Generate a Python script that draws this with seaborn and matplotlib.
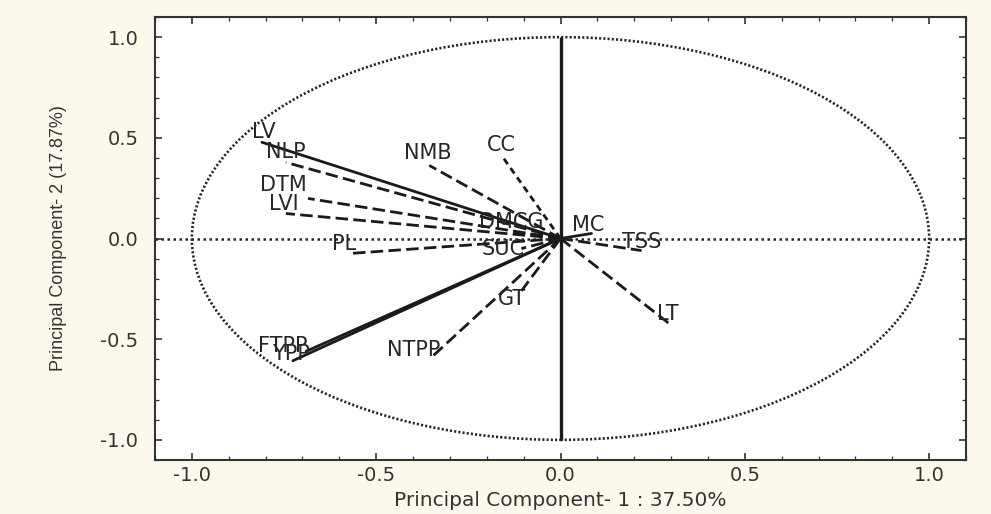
import numpy as np
import pandas as pd
import matplotlib
matplotlib.use("Agg")
import matplotlib.pyplot as plt
from matplotlib.patches import Circle
from matplotlib.ticker import MultipleLocator
import seaborn as sns

# loadings
variables = ['LV', 'NLP', 'DTM', 'LVI', 'PL', 'NMB', 'CC', 'DMCG',
             'MC', 'TSS', 'SUC', 'GT', 'NTPP', 'FTPP', 'YPP', 'LT']
pc1 = [-0.81, -0.745, -0.685, -0.745, -0.576, -0.356, -0.16, -0.128,
       0.084, 0.22, -0.106, -0.106, -0.35, -0.69, -0.726, 0.30]
pc2 = [0.478, 0.378, 0.199, 0.124, -0.075, 0.363, 0.413, 0.03,
       0.025, -0.06, -0.05, -0.26, -0.59, -0.56, -0.607, -0.43]
ticks = [-1.0, -0.5, 0.0, 0.5, 1.0]
xlab = 'Principal Component- 1 : 37.50%'
ylab = 'Principal Component- 2 (17.87%)'

# label offsets (pixels) and line styles
offsets = {'LV': (2, 10), 'NLP': (0, 10), 'DTM': (-25, 13), 'LVI': (-2, 10),
           'PL': (-4, 10), 'NMB': (-1, 12), 'CC': (0, 10), 'DMCG': (-2, 10),
           'MC': (-3, 8), 'TSS': (0, 9), 'SUC': (-18, 0), 'GT': (-9, -8),
           'NTPP': (-18, 7), 'FTPP': (-23, 5), 'YPP': (-2, 7), 'LT': (-3, 11)}
long_dash = (4.5, 1.9)
dashes = {v: long_dash for v in variables}
for v in ['LV', 'FTPP', 'YPP', 'MC']:
    dashes[v] = ''
dashes['CC'] = (2.4, 1.7)

bg = '#fcf8ec'
sns.set_theme(style="ticks")
plt.rcParams['font.family'] = ['DejaVu Sans']

fig = plt.figure(figsize=(9.91, 5.14), dpi=100, facecolor=bg)
ax = fig.add_axes([155 / 991, 54 / 514, 811 / 991, 443 / 514])
ax.set_facecolor('white')

rows = []
for v, x, y in zip(variables, pc1, pc2):
    rows.append({'var': v, 'x': 0.0, 'y': 0.0, 'order': 0})
    rows.append({'var': v, 'x': x, 'y': y, 'order': 1})
df = pd.DataFrame(rows)

# reference circle and axes lines
ax.add_patch(Circle((0, 0), 1.0, fill=False, lw=1.9, ls=(0, (0.8, 0.8)),
                    color='#262626', zorder=1))
ax.axhline(0, color='#262626', lw=1.8, ls=(0, (1, 1.4)), zorder=1)
ax.vlines(0, -1, 1, color='#1a1a1a', lw=2.4, zorder=2)

sns.lineplot(data=df, x='x', y='y', units='var', estimator=None, sort=False,
             style='var', dashes=dashes, color='#1a1a1a', linewidth=2.0,
             legend=False, ax=ax, zorder=3)

for v, x, y in zip(variables, pc1, pc2):
    dx, dy = offsets[v]
    ax.annotate(v, (x, y), xytext=(dx, dy), textcoords='offset pixels',
                ha='center', va='center', fontsize=15, color='#262626',
                zorder=4)

ax.set_xlim(-1.1, 1.1)
ax.set_ylim(-1.1, 1.1)
ax.set_xticks(ticks)
ax.set_yticks(ticks)
ax.set_xticklabels([f'{t:.1f}' for t in ticks])
ax.set_yticklabels([f'{t:.1f}' for t in ticks])
ax.xaxis.set_minor_locator(MultipleLocator(0.1))
ax.yaxis.set_minor_locator(MultipleLocator(0.1))
ax.tick_params(which='both', direction='in', top=True, right=True,
               color='#333333', labelcolor='#333333', labelsize=14)
ax.tick_params(which='major', length=5, width=1.2)
ax.tick_params(which='minor', length=3, width=0.9)
ax.tick_params(axis='x', which='major', pad=4)
ax.tick_params(axis='y', which='major', pad=12)
for s in ax.spines.values():
    s.set_color('#333333')
    s.set_linewidth(1.5)

ax.set_xlabel(xlab, fontsize=14.5, color='#333333')
ax.xaxis.set_label_coords(0.5, -0.07)
ax.set_ylabel(ylab, fontsize=13, color='#333333',
              family=['Liberation Sans Narrow', 'Liberation Sans', 'DejaVu Sans'])
ax.yaxis.set_label_coords(-0.108, 0.5)

fig.savefig('out.png', dpi=100, facecolor=bg)
